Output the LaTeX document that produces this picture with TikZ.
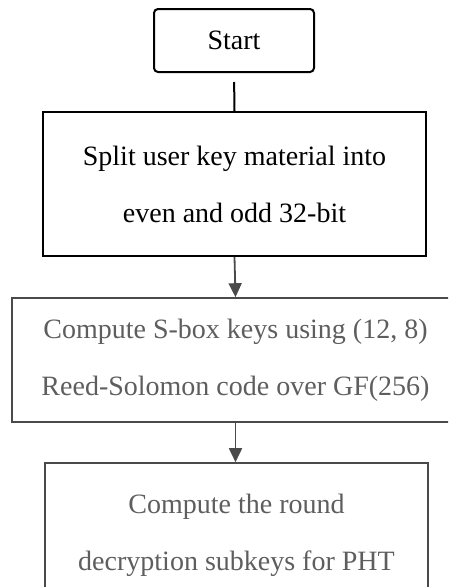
\documentclass[tikz,border=0pt]{standalone}
\usepackage{fontspec}
\setmainfont{Liberation Serif}
\usetikzlibrary{arrows.meta}
\definecolor{inkgray}{HTML}{5E5E5E}
\definecolor{linegray}{HTML}{4A4A4A}
\tikzset{
  x=1pt, y=-1pt,
  every node/.style={font=\fontsize{28}{57}\selectfont, align=center, inner sep=0pt},
  startbox/.style={draw=black, line width=2pt, rounded corners=4pt, minimum width=160pt, minimum height=63pt},
  darkbox/.style={draw=black, line width=2pt, minimum width=383pt, minimum height=144pt},
  graybox/.style={draw=linegray, line width=1.6pt, text=inkgray},
  flow/.style={draw=linegray, line width=1.8pt, -{Triangle[length=14pt, width=13pt]}},
}
\begin{document}
\begin{tikzpicture}
\useasboundingbox (0,0) rectangle (448,587);
\clip (0,0) rectangle (448,587);
\fill[white] (0,0) rectangle (448,587);

\node[startbox] (start) at (234,40.5) {Start};
\node[darkbox] (split) at (234.5,184) {Split user key material into\\even and odd 32-bit};
\node[graybox, minimum width=447pt, minimum height=124pt] (sbox) at (235.5,360)
  {Compute S-box keys using (12, 8)\\Reed-Solomon code over GF(256)};
\node[graybox, minimum width=383pt, minimum height=144pt] (round) at (236.5,535)
  {Compute the round\\decryption subkeys for PHT};

\draw[line width=2pt, shorten <=9pt] (start.south) -- (split.north);
\draw[flow] (split.south) -- (sbox.north);
\draw[flow] (sbox.south) -- (sbox.south |- round.north);
\end{tikzpicture}
\end{document}
